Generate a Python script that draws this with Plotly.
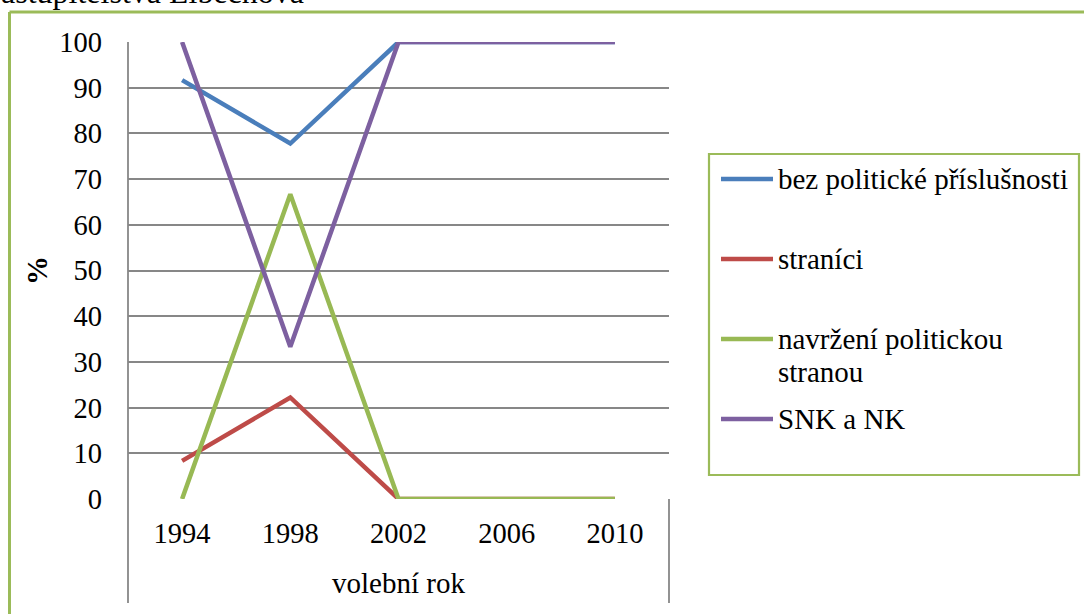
import plotly.graph_objects as go

years = ["1994", "1998", "2002", "2006", "2010"]
series_names = ["bez politické příslušnosti", "straníci",
                "navržení politickou stranou", "SNK a NK"]
bez_politicke = [91.67, 77.78, 100, 100, 100]
stranici = [8.33, 22.22, 0, 0, 0]
navrzeni = [0, 66.67, 0, 0, 0]
snk_nk = [100, 33.33, 100, 100, 100]
y_ticks = [0, 10, 20, 30, 40, 50, 60, 70, 80, 90, 100]
x_title = "volební rok"
y_title = "%"
top_text = "astupitelstva Libečnova"

colors = ["#4A7EBB", "#BE4B48", "#98B954", "#7D60A0"]
all_series = [bez_politicke, stranici, navrzeni, snk_nk]

W, H = 1084, 614
FONT = "'Times New Roman', 'Liberation Serif', 'DejaVu Serif', serif"
FS = 29

def px(x):
    return x / W

def py(y):
    return 1 - y / H

fig = go.Figure()
for name, vals, col in zip(series_names, all_series, colors):
    fig.add_trace(go.Scatter(x=years, y=vals, name=name, mode="lines",
                             line=dict(color=col, width=4.5),
                             showlegend=False))

grid = "#878787"
fig.update_layout(
    width=W, height=H,
    margin=dict(l=0, r=0, t=0, b=0, autoexpand=False),
    paper_bgcolor="white", plot_bgcolor="white",
    font=dict(family=FONT, size=FS, color="black"),
    xaxis=dict(domain=[px(128), px(669)], type="category", automargin=False,
               range=[-0.5, 4.5], showgrid=False, zeroline=False,
               showline=False, ticks="", ticklabelstandoff=14,
               tickfont=dict(size=FS - 0.5, family=FONT)),
    yaxis=dict(domain=[py(499), py(42)], range=[0, 100], automargin=False,
               tickvals=y_ticks, showgrid=True, gridcolor=grid,
               gridwidth=1.5, zeroline=False, showline=False,
               ticks="", ticklabelstandoff=25,
               tickfont=dict(size=FS - 0.5, family=FONT)),
)

shapes = []
shapes.append(dict(type="line", xref="paper", yref="paper",
                   x0=px(128), x1=px(128), y0=py(42), y1=py(603),
                   line=dict(color=grid, width=1.8)))
shapes.append(dict(type="line", xref="paper", yref="paper",
                   x0=px(669), x1=px(669), y0=py(499), y1=py(603),
                   line=dict(color=grid, width=1.8)))
shapes.append(dict(type="line", xref="paper", yref="paper",
                   x0=px(9.5), x1=px(1084), y0=py(12), y1=py(12),
                   line=dict(color="#9BBB59", width=3)))
shapes.append(dict(type="line", xref="paper", yref="paper",
                   x0=px(9.5), x1=px(9.5), y0=py(12), y1=py(614),
                   line=dict(color="#9BBB59", width=3)))
shapes.append(dict(type="rect", xref="paper", yref="paper",
                   x0=px(709), x1=px(1079), y0=py(154), y1=py(475),
                   line=dict(color="#9BBB59", width=2.2),
                   fillcolor="rgba(0,0,0,0)"))

legend_y = [179, 259, 339, 419]
legend_lines = [["bez politické příslušnosti"], ["straníci"],
                ["navržení politickou", "stranou"], ["SNK a NK"]]
annotations = []
for lines, col, ly in zip(legend_lines, colors, legend_y):
    shapes.append(dict(type="line", xref="paper", yref="paper",
                       x0=px(721), x1=px(773), y0=py(ly), y1=py(ly),
                       line=dict(color=col, width=4.5)))
    for k, txt in enumerate(lines):
        annotations.append(dict(xref="paper", yref="paper", x=px(776),
                                y=py(ly + 33 * k), xanchor="left",
                                yanchor="middle", align="left", text=txt,
                                showarrow=False,
                                font=dict(size=FS, family=FONT)))

annotations.append(dict(xref="paper", yref="paper", x=px(398), y=py(583),
                        text=x_title, showarrow=False, xanchor="center",
                        yanchor="middle", font=dict(size=FS, family=FONT)))
annotations.append(dict(xref="paper", yref="paper", x=px(37), y=py(271),
                        text="<b>" + y_title + "</b>", showarrow=False,
                        textangle=-90, xanchor="center", yanchor="middle",
                        font=dict(size=FS, family=FONT)))
annotations.append(dict(xref="paper", yref="paper", x=px(-1), y=py(12),
                        text=top_text, showarrow=False, xanchor="left",
                        yanchor="bottom", font=dict(size=32, family=FONT)))

fig.update_layout(shapes=shapes, annotations=annotations)
fig.write_html("out.html", config={"displayModeBar": False},
               post_script="document.body.style.margin='0px';")
